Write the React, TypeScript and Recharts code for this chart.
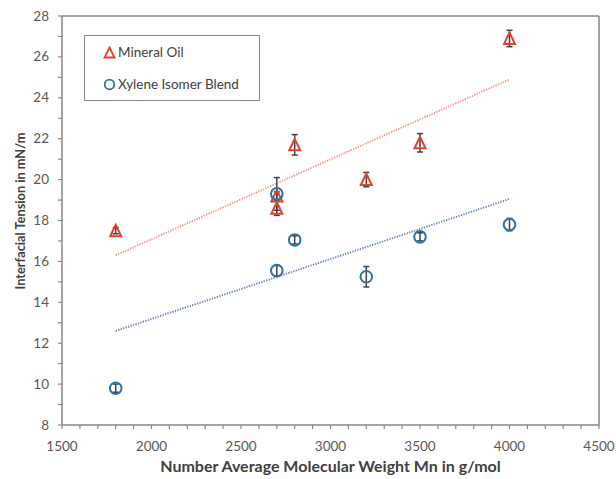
import { ScatterChart, Scatter, XAxis, YAxis, ErrorBar, ReferenceLine } from 'recharts'

// Interfacial tension vs. number average molecular weight
const mineralMn = [1800, 2700, 2700, 2800, 3200, 3500, 4000]
const mineralTension = [17.5, 19.2, 18.6, 21.7, 20.0, 21.8, 26.9]
const mineralErr = [0.15, 0.2, 0.35, 0.5, 0.35, 0.45, 0.4]

const xyleneMn = [1800, 2700, 2700, 2800, 3200, 3500, 4000]
const xyleneTension = [9.8, 15.55, 19.3, 17.05, 15.25, 17.2, 17.8]
const xyleneErr = [0.2, 0.25, 0.8, 0.2, 0.5, 0.2, 0.3]

// linear trend lines (end points)
const trendMn = [1800, 4000]
const mineralTrend = [16.3, 24.9]
const xyleneTrend = [12.6, 19.05]

const xMajor = [1500, 2000, 2500, 3000, 3500, 4000, 4500]
const yMajor = [8, 10, 12, 14, 16, 18, 20, 22, 24, 26, 28]
const xTicks = Array.from({ length: 31 }, (_, i) => 1500 + i * 100)
const yTicks = Array.from({ length: 21 }, (_, i) => 8 + i)

const RED = '#e2412b'
const BLUE = '#2b72a6'
const AXIS = '#868686'
const LABEL = '#595959'
const FONT = 'Lato, "Open Sans", sans-serif'

const mineralData = mineralMn.map((mn, i) => ({ mn, ift: mineralTension[i], err: mineralErr[i] }))
const xyleneData = xyleneMn.map((mn, i) => ({ mn, ift: xyleneTension[i], err: xyleneErr[i] }))
const mineralTrendData = trendMn.map((mn, i) => ({ mn, ift: mineralTrend[i] }))
const xyleneTrendData = trendMn.map((mn, i) => ({ mn, ift: xyleneTrend[i] }))

const Triangle = ({ cx, cy }: any) => (
  <path
    d={`M${cx},${cy - 6} L${cx + 5.5},${cy + 5.5} L${cx - 5.5},${cy + 5.5} Z`}
    fill="none"
    stroke={RED}
    strokeWidth={2}
    strokeLinejoin="miter"
  />
)

const Circle = ({ cx, cy }: any) => (
  <circle cx={cx} cy={cy} r={5.8} fill="none" stroke={BLUE} strokeWidth={2} />
)

const NoDot = () => <g />

const XTick = ({ x, y, payload }: any) => {
  const major = xMajor.includes(payload.value)
  return (
    <g>
      <line x1={x} y1={y} x2={x} y2={y + 4} stroke={AXIS} strokeWidth={1.2} />
      {major && (
        <text x={x} y={y + 26} textAnchor="middle" fill={LABEL} fontSize={13.5} fontFamily={FONT}>
          {payload.value}
        </text>
      )}
    </g>
  )
}

const YTick = ({ x, y, payload }: any) => {
  const major = yMajor.includes(payload.value)
  return (
    <g>
      <line x1={x - 4} y1={y} x2={x} y2={y} stroke={AXIS} strokeWidth={1.2} />
      {major && (
        <text x={x - 13} y={y + 4.5} textAnchor="end" fill={LABEL} fontSize={13.5} fontFamily={FONT}>
          {payload.value}
        </text>
      )}
    </g>
  )
}

const XTitle = ({ viewBox }: any) => (
  <text
    x={viewBox.x + viewBox.width / 2}
    y={472}
    textAnchor="middle"
    fill="#404040"
    fontSize={16}
    fontWeight="bold"
    fontFamily={FONT}
  >
    Number Average Molecular Weight Mn in g/mol
  </text>
)

const YTitle = () => (
  <text
    x={20}
    y={211}
    transform="rotate(-90 20 211)"
    textAnchor="middle"
    dominantBaseline="central"
    fill="#404040"
    fontSize={12.8}
    fontWeight="bold"
    fontFamily={FONT}
  >
    Interfacial Tension in mN/m
  </text>
)

const LegendBox = () => (
  <div
    style={{
      position: 'absolute',
      left: 84,
      top: 35,
      width: 176,
      height: 66,
      boxSizing: 'border-box',
      border: `1.5px solid ${AXIS}`,
      background: '#fff',
      fontFamily: FONT,
      fontSize: 13.5,
      color: '#404040',
    }}
  >
    <div style={{ position: 'absolute', left: 18, top: 8, display: 'flex', alignItems: 'center' }}>
      <svg width={13} height={13}>
        <path d="M6.5,1.5 L11.5,11.5 L1.5,11.5 Z" fill="none" stroke={RED} strokeWidth={1.8} />
      </svg>
      <span style={{ marginLeft: 2 }}>Mineral Oil</span>
    </div>
    <div style={{ position: 'absolute', left: 18, top: 40, display: 'flex', alignItems: 'center' }}>
      <svg width={13} height={13}>
        <circle cx={6.5} cy={6.5} r={4.8} fill="none" stroke={BLUE} strokeWidth={1.8} />
      </svg>
      <span style={{ marginLeft: 2 }}>Xylene Isomer Blend</span>
    </div>
  </div>
)

export default function App() {
  return (
    <div style={{ position: 'absolute', left: 0, top: 0, width: 616, height: 479, background: '#fff' }}>
      <ScatterChart width={616} height={479} margin={{ top: 16, right: 17, bottom: 0, left: 0 }}>
        <XAxis
          type="number"
          dataKey="mn"
          domain={[1500, 4500]}
          ticks={xTicks}
          interval={0}
          tickSize={0}
          tickMargin={0}
          tickLine={false}
          tick={<XTick />}
          axisLine={{ stroke: AXIS, strokeWidth: 1.5 }}
          height={54}
          label={<XTitle />}
          allowDataOverflow
        />
        <YAxis
          type="number"
          dataKey="ift"
          domain={[8, 28]}
          ticks={yTicks}
          interval={0}
          tickSize={0}
          tickMargin={0}
          tickLine={false}
          tick={<YTick />}
          axisLine={{ stroke: AXIS, strokeWidth: 1.5 }}
          width={62}
          label={<YTitle />}
          allowDataOverflow
        />
        <ReferenceLine y={28} stroke={AXIS} strokeWidth={1.5} />
        <ReferenceLine x={4500} stroke={AXIS} strokeWidth={1.5} />
        <Scatter
          data={mineralTrendData}
          line={{ stroke: '#f0897a', strokeWidth: 1.8, strokeDasharray: '1.3 1.3' }}
          shape={<NoDot />}
          isAnimationActive={false}
        />
        <Scatter
          data={xyleneTrendData}
          line={{ stroke: '#5c7fc0', strokeWidth: 1.8, strokeDasharray: '1.3 1.3' }}
          shape={<NoDot />}
          isAnimationActive={false}
        />
        <Scatter data={mineralData} shape={<Triangle />} isAnimationActive={false}>
          <ErrorBar dataKey="err" direction="y" stroke="#404040" strokeWidth={1.5} width={3} />
        </Scatter>
        <Scatter data={xyleneData} shape={<Circle />} isAnimationActive={false}>
          <ErrorBar dataKey="err" direction="y" stroke="#404040" strokeWidth={1.5} width={3} />
        </Scatter>
      </ScatterChart>
      <LegendBox />
    </div>
  )
}
